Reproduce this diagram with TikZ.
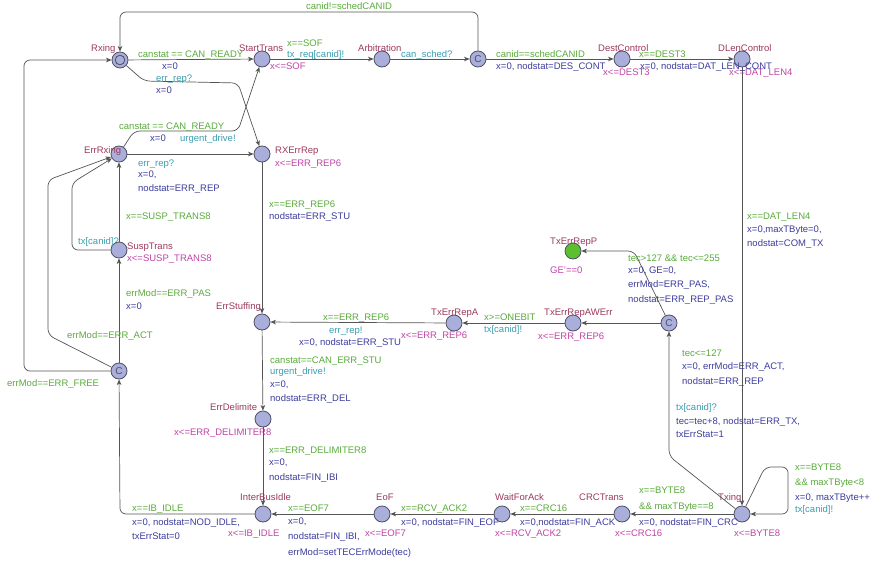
\documentclass[tikz,border=0pt]{standalone}
\usepackage{fontspec}
\setmainfont{Liberation Sans}
\usetikzlibrary{arrows.meta}

\definecolor{locfill}{HTML}{A9AFDA}
\definecolor{locline}{HTML}{4F4F63}
\definecolor{urgfill}{HTML}{5DBF2E}
\definecolor{namecol}{HTML}{9C3A5E}
\definecolor{guardcol}{HTML}{5AAA3C}
\definecolor{synccol}{HTML}{3A9EB0}
\definecolor{updcol}{HTML}{3C3C9E}
\definecolor{invcol}{HTML}{C044A6}
\definecolor{edgecol}{HTML}{555555}

\tikzset{
  locn/.style={circle, draw=locline, fill=locfill, line width=0.8pt, minimum size=16pt, inner sep=0pt},
  comm/.style={locn, font=\fontsize{10}{10}\selectfont, text=locline},
  lbl/.style={anchor=west, inner sep=0pt, text height=6.8pt, text depth=0pt, font=\fontsize{9.5}{11}\selectfont},
  nm/.style={lbl, text=namecol},
  grd/.style={lbl, text=guardcol},
  syn/.style={lbl, text=synccol},
  upd/.style={lbl, text=updcol},
  invl/.style={lbl, text=invcol},
  tr/.style={draw=edgecol, line width=0.7pt, rounded corners=6pt,
             -{Stealth[length=5.5pt,width=4.5pt,inset=1.5pt]}},
}

\begin{document}
\begin{tikzpicture}[x=1pt,y=-1pt]
\fill[white] (0,0) rectangle (874,564);
\useasboundingbox (0,0) rectangle (874,564);

% ---------- locations ----------
\node[locn] (rx)   at (120,60)  {};
\draw[locline, line width=0.8pt] (rx.center) circle (4.8);
\node[locn] (st)   at (262,59)  {};
\node[locn] (arb)  at (382,59)  {};
\node[comm] (c1)   at (478,59)  {C};
\node[locn] (dc)   at (622,59)  {};
\node[locn] (dl)   at (742,59)  {};
\node[locn] (erx)  at (119,154) {};
\node[locn] (rxe)  at (262,154) {};
\node[locn] (sus)  at (119,250) {};
\node[locn] (es)   at (262,322) {};
\node[comm] (c2)   at (119,371) {C};
\node[locn, fill=urgfill] (txp) at (573,251) {};
\node[locn] (tra)  at (454,323) {};
\node[locn] (traw) at (573,323) {};
\node[comm] (c3)   at (669,323) {C};
\node[locn] (ed)   at (263,419) {};
\node[locn] (ibi)  at (263,514) {};
\node[locn] (eof)  at (382,514) {};
\node[locn] (wfa)  at (502,514) {};
\node[locn] (crc)  at (622,514) {};
\node[locn] (tx)   at (742,514) {};

% ---------- location names ----------
\node[nm] (n-rx)   at (91,48)   {Rxing};
\node[nm] (n-st)   at (239,48)  {StartTrans};
\node[nm] (n-arb)  at (358,48)  {Arbitration};
\node[nm] (n-dc)   at (598,48)  {DestControl};
\node[nm] (n-dl)   at (718,48)  {DLenControl};
\node[nm] (n-erx)  at (84,150)  {ErrRxing};
\node[nm] (n-rxe)  at (275,150) {RXErrRep};
\node[nm] (n-sus)  at (127,246) {SuspTrans};
\node[nm] (n-es)   at (216,306) {ErrStuffing};
\node[nm] (n-txp)  at (550,241) {TxErrRepP};
\node[nm] (n-tra)  at (431,312) {TxErrRepA};
\node[nm] (n-traw) at (544,312) {TxErrRepAWErr};
\node[nm] (n-ed)   at (210,407) {ErrDelimite};
\node[nm] (n-ibi)  at (240,497) {InterBusIdle};
\node[nm] (n-eof)  at (376,497) {EoF};
\node[nm] (n-wfa)  at (495,497) {WaitForAck};
\node[nm] (n-crc)  at (579,497) {CRCTrans};
\node[nm] (n-tx)   at (718,497) {Txing};

% ---------- invariants ----------
\node[invl] (i-st)   at (270,66)  {x<=SOF};
\node[invl] (i-dc)   at (603,72)  {x<=DEST3};
\node[invl] (i-dl)   at (729,72)  {x<=DAT\_LEN4};
\node[invl] (i-rxe)  at (275,163) {x<=ERR\_REP6};
\node[invl] (i-sus)  at (127,258) {x<=SUSP\_TRANS8};
\node[invl] (i-txp)  at (550,270) {GE'==0};
\node[invl] (i-tra)  at (401,335) {x<=ERR\_REP6};
\node[invl] (i-traw) at (538,336) {x<=ERR\_REP6};
\node[invl] (i-ed)   at (174,432) {x<=ERR\_DELIMITER8};
\node[invl] (i-ibi)  at (228,533) {x<=IB\_IDLE};
\node[invl] (i-eof)  at (365,533) {x<=EOF7};
\node[invl] (i-wfa)  at (495,533) {x<=RCV\_ACK2};
\node[invl] (i-crc)  at (615,533) {x<=CRC16};
\node[invl] (i-tx)   at (734,533) {x<=BYTE8};

% ---------- transitions ----------
\draw[tr] (rx) -- (st);
\draw[tr] (rx) -- (144,81) -- (238,83) -- (rxe);
\draw[tr] (st) -- (arb);
\draw[tr] (arb) -- (c1);
\draw[tr] (c1) -- (478,12) -- (120,12) -- (rx);
\draw[tr] (c1) -- (dc);
\draw[tr] (dc) -- (dl);
\draw[tr] (dl) -- (tx);
\draw[tr] (erx) -- (134,131) -- (238,131) -- (st);
\draw[tr] (erx) -- (rxe);
\draw[tr] (sus) -- (erx);
\draw[tr] (sus) -- (72,250) -- (72,183) -- (erx);
\draw[tr] (c2) -- (48,335) -- (48,180) -- (erx);
\draw[tr] (c2) -- (sus);
\draw[tr] (c2) -- (24,371) -- (24,60) -- (rx);
\draw[tr] (rxe) -- (es);
\draw[tr] (tra) -- (es);
\draw[tr] (traw) -- (tra);
\draw[tr] (c3) -- (traw);
\draw[tr] (c3) -- (634,251) -- (txp);
\draw[tr] (tx) -- (669,456) -- (c3);
\draw[tr] (tx) -- (crc);
\draw[tr] (tx) -- (765,467) -- (788,467) -- (788,514) -- (tx);
\draw[tr] (crc) -- (wfa);
\draw[tr] (wfa) -- (eof);
\draw[tr] (eof) -- (ibi);
\draw[tr] (ibi) -- (120,514) -- (c2);
\draw[tr] (es) -- (ed);
\draw[tr] (ed) -- (ibi);

% ---------- transition labels ----------
% Rxing -> StartTrans
\node[grd] (l1a) at (138,54) {canstat == CAN\_READY};
\node[upd] (l1b) at (162,66) {x=0};
% Rxing -> RXErrRep
\node[syn] (l2a) at (156,78) {err\_rep?};
\node[upd] (l2b) at (156,90) {x=0};
% StartTrans -> Arbitration
\node[grd] (l3a) at (287,43) {x==SOF};
\node[syn] (l3b) at (287,54) {tx\_req[canid]!};
% Arbitration -> C
\node[syn] (l4a) at (401,54) {can\_sched?};
% C -> Rxing
\node[grd] (l5a) at (306,6) {canid!=schedCANID};
% C -> DestControl
\node[grd] (l6a) at (496,54) {canid==schedCANID};
\node[upd] (l6b) at (496,66) {x=0, nodstat=DES\_CONT};
% DestControl -> DLenControl
\node[grd] (l7a) at (639,54) {x==DEST3};
\node[upd] (l7b) at (640,66) {x=0, nodstat=DAT\_LEN\_CONT};
% DLenControl -> Txing
\node[grd] (l8a) at (747,216) {x==DAT\_LEN4};
\node[upd] (l8b) at (747,229) {x=0,maxTByte=0,};
\node[upd] (l8c) at (747,243) {nodstat=COM\_TX};
% ErrRxing -> StartTrans
\node[grd] (l9a) at (119,126) {canstat == CAN\_READY};
\node[upd] (l9b) at (150,138) {x=0};
\node[syn] (l9c) at (180,138) {urgent\_drive!};
% ErrRxing -> RXErrRep
\node[syn] (l10a) at (138,163) {err\_rep?};
\node[upd] (l10b) at (138,174) {x=0,};
\node[upd] (l10c) at (138,188) {nodstat=ERR\_REP};
% SuspTrans -> ErrRxing
\node[grd] (l11a) at (126,216) {x==SUSP\_TRANS8};
\node[syn] (l12a) at (78,241) {tx[canid]?};
% C -> ErrRxing / SuspTrans / Rxing
\node[grd] (l13a) at (67,335) {errMod==ERR\_ACT};
\node[grd] (l14a) at (126,293) {errMod==ERR\_PAS};
\node[upd] (l14b) at (126,306) {x=0};
\node[grd] (l15a) at (7,383) {errMod==ERR\_FREE};
% RXErrRep -> ErrStuffing
\node[grd] (l16a) at (269,204) {x==ERR\_REP6};
\node[upd] (l16b) at (269,216) {nodstat=ERR\_STU};
% TxErrRepA -> ErrStuffing
\node[grd] (l17a) at (323,317) {x==ERR\_REP6};
\node[syn] (l17b) at (329,330) {err\_rep!};
\node[upd] (l17c) at (299,342) {x=0, nodstat=ERR\_STU};
% TxErrRepAWErr -> TxErrRepA
\node[grd] (l18a) at (484,317) {x>=ONEBIT};
\node[syn] (l18b) at (484,329) {tx[canid]!};
% C -> TxErrRepP
\node[grd] (l20a) at (628,258) {tec>127 \&\& tec<=255};
\node[upd] (l20b) at (628,270) {x=0, GE=0,};
\node[upd] (l20c) at (628,284) {errMod=ERR\_PAS,};
\node[upd] (l20d) at (628,299) {nodstat=ERR\_REP\_PAS};
% C -> TxErrRepAWErr
\node[grd] (l19a) at (682,353) {tec<=127};
\node[upd] (l19b) at (682,366) {x=0, errMod=ERR\_ACT,};
\node[upd] (l19c) at (682,381) {nodstat=ERR\_REP};
% Txing -> C
\node[syn] (l21a) at (676,407) {tx[canid]?};
\node[upd] (l21b) at (676,421) {tec=tec+8, nodstat=ERR\_TX,};
\node[upd] (l21c) at (676,434) {txErrStat=1};
% Txing self loop
\node[grd] (l23a) at (795,467) {x==BYTE8};
\node[grd] (l23b) at (795,482) {\&\& maxTByte<8};
\node[upd] (l23c) at (795,497) {x=0, maxTByte++};
\node[syn] (l23d) at (795,509) {tx[canid]!};
% Txing -> CRCTrans
\node[grd] (l22a) at (639,490) {x==BYTE8};
\node[grd] (l22b) at (639,506) {\&\& maxTByte==8};
\node[upd] (l22c) at (639,522) {x=0, nodstat=FIN\_CRC};
% CRCTrans -> WaitForAck
\node[grd] (l24a) at (520,508) {x==CRC16};
\node[upd] (l24b) at (520,522) {x=0,nodstat=FIN\_ACK};
% WaitForAck -> EoF
\node[grd] (l25a) at (401,508) {x==RCV\_ACK2};
\node[upd] (l25b) at (401,522) {x=0, nodstat=FIN\_EOF};
% EoF -> InterBusIdle
\node[grd] (l26a) at (288,508) {x==EOF7};
\node[upd] (l26b) at (288,521) {x=0,};
\node[upd] (l26c) at (288,536) {nodstat=FIN\_IBI,};
\node[upd] (l26d) at (288,552) {errMod=setTECErrMode(tec)};
% InterBusIdle -> C
\node[grd] (l27a) at (132,508) {x==IB\_IDLE};
\node[upd] (l27b) at (132,522) {x=0, nodstat=NOD\_IDLE,};
\node[upd] (l27c) at (132,536) {txErrStat=0};
% ErrStuffing -> ErrDelimite
\node[grd] (l28a) at (270,360) {canstat==CAN\_ERR\_STU};
\node[syn] (l28b) at (270,371) {urgent\_drive!};
\node[upd] (l28c) at (270,384) {x=0,};
\node[upd] (l28d) at (270,398) {nodstat=ERR\_DEL};
% ErrDelimite -> InterBusIdle
\node[grd] (l29a) at (269,450) {x==ERR\_DELIMITER8};
\node[upd] (l29b) at (269,462) {x=0,};
\node[upd] (l29c) at (269,477) {nodstat=FIN\_IBI};
\end{tikzpicture}
\end{document}
